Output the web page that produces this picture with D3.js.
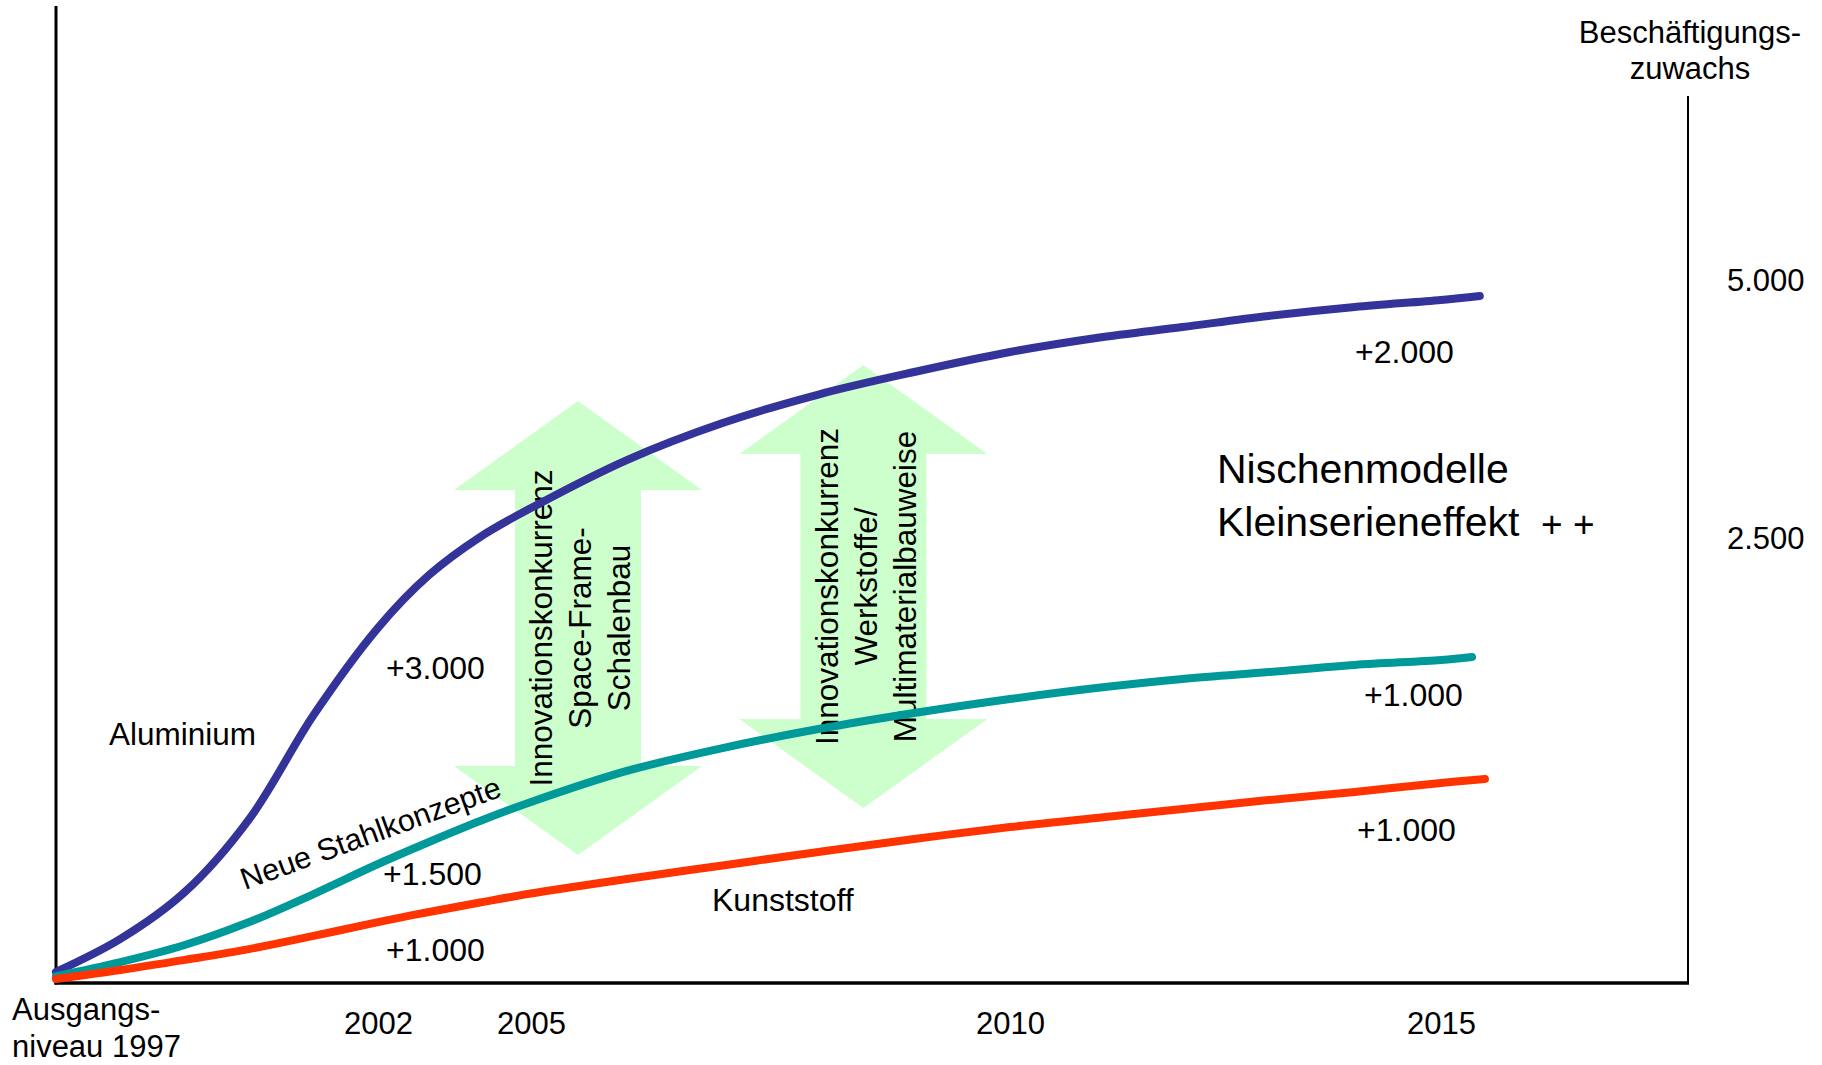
<!DOCTYPE html>
<html lang="de">
<head>
<meta charset="utf-8">
<title>Beschäftigungszuwachs nach Werkstoff</title>
<script src="https://cdn.jsdelivr.net/npm/d3@7"></script>
<style>
  html, body { margin: 0; padding: 0; background: #ffffff; }
  svg { display: block; }
  text { font-family: "Liberation Sans", Arial, sans-serif; fill: #000000; }
</style>
</head>
<body>
<svg id="chart" width="1822" height="1065"></svg>
<script>
// ---- data: employment growth per material, [year, Beschäftigte] ----
const aluminium = [
  [1997, 62], [1998, 248], [1999, 512], [2000, 923], [2001, 1509], [2002, 2000],
  [2003, 2297], [2004, 2519], [2005, 2800], [2006, 3265], [2007, 3624], [2008, 3900],
  [2009, 4118], [2010, 4312], [2011, 4448], [2012, 4554], [2013, 4661], [2014, 4748],
  [2015, 4816], [2015.45, 4855]
];
const stahl = [
  [1997, 39], [1998, 118], [1999, 214], [2000, 343], [2001, 501], [2002, 670],
  [2003, 794], [2004, 912], [2005, 1019], [2006, 1194], [2007, 1323], [2008, 1430],
  [2009, 1520], [2010, 1599], [2011, 1661], [2012, 1712], [2013, 1751], [2014, 1791],
  [2015, 1819], [2015.36, 1836]
];
const kunststoff = [
  [1997, 23], [1998, 73], [1999, 130], [2000, 191], [2001, 265], [2002, 343],
  [2003, 400], [2004, 453], [2005, 504], [2006, 586], [2007, 662], [2008, 738],
  [2009, 811], [2010, 878], [2011, 929], [2012, 980], [2013, 1030], [2014, 1076],
  [2015, 1126], [2015.51, 1149]
];

// axis labelling
const yearTicks = [2002, 2005, 2010, 2015];
const startLabel = ["Ausgangs-", "niveau 1997"];
const valueTicks = [2500, 5000];
const axisTitle = ["Beschäftigungs-", "zuwachs"];

// increments written next to the curves
const incrementTexts = [3000, 1500, 1000, 2000, 1000, 1000];

// competition arrows: [centre year, lower value, upper value]
const arrowSpans = [[2005.49, 721, 3837], [2008.47, 985, 4186]];
const arrowTexts = [
  ["Innovationskonkurrenz", "Space-Frame-", "Schalenbau"],
  ["Innovationskonkurrenz", "Werkstoffe/", "Multimaterialbauweise"]
];

// ---- layout ----
const W = 1822, H = 1065;
const left = 56, bottom = 983, rightAxisX = 1688, leftAxisTop = 6, rightAxisTop = 96;
const colors = { alu: "#333399", stahl: "#009999", kunststoff: "#ff3300", arrow: "#ccffcc" };

const svg = d3.select("#chart").attr("viewBox", `0 0 ${W} ${H}`);

// schematic time axis: uneven spacing between the marked years
const x = d3.scaleLinear()
  .domain([1997, 2002, 2005, 2010, 2015])
  .range([left, 378, 531, 1010, 1441]);

// schematic value axis
const y = d3.scaleLinear()
  .domain([0, 2500, 5000])
  .range([bottom, 539, 281]);

const de = d3.formatLocale({ decimal: ",", thousands: ".", grouping: [3], currency: ["", " €"] });
const fmt = de.format(",d");

// ---- arrows (drawn first, curves run over them) ----
const headHalf = 124, shaftHalf = 63, headLen = 89;
const arrowG = svg.append("g");
arrowSpans.forEach(([yr, lo, hi], i) => {
  const cx = x(yr), yt = y(hi), yb = y(lo);
  const pts = [
    [cx, yt], [cx + headHalf, yt + headLen], [cx + shaftHalf, yt + headLen],
    [cx + shaftHalf, yb - headLen], [cx + headHalf, yb - headLen], [cx, yb],
    [cx - headHalf, yb - headLen], [cx - shaftHalf, yb - headLen],
    [cx - shaftHalf, yt + headLen], [cx - headHalf, yt + headLen]
  ];
  arrowG.append("polygon")
    .attr("points", pts.map(p => p.join(",")).join(" "))
    .attr("fill", colors.arrow);

  const t = arrowG.append("g")
    .attr("transform", `translate(${cx},${(yt + yb) / 2}) rotate(-90)`);
  arrowTexts[i].forEach((line, k) => {
    t.append("text")
      .attr("x", 0)
      .attr("y", -25.5 + k * 39)
      .attr("text-anchor", "middle")
      .attr("font-size", 31.5)
      .text(line);
  });
});

// ---- axes ----
svg.append("line")
  .attr("x1", left).attr("x2", left)
  .attr("y1", leftAxisTop).attr("y2", bottom + 1.5)
  .attr("stroke", "#000").attr("stroke-width", 3);
svg.append("line")
  .attr("x1", left - 1.5).attr("x2", rightAxisX + 1)
  .attr("y1", bottom).attr("y2", bottom)
  .attr("stroke", "#000").attr("stroke-width", 3.5);
svg.append("line")
  .attr("x1", rightAxisX).attr("x2", rightAxisX)
  .attr("y1", rightAxisTop).attr("y2", bottom)
  .attr("stroke", "#000").attr("stroke-width", 2);

const xAxis = svg.append("g")
  .attr("transform", `translate(0,${bottom})`)
  .call(d3.axisBottom(x).tickValues(yearTicks).tickSize(0).tickPadding(29).tickFormat(d3.format("d")));
xAxis.select(".domain").remove();
xAxis.attr("font-size", null).attr("font-family", null);
xAxis.selectAll("text").attr("font-size", 31).attr("fill", "#000");

const yAxis = svg.append("g")
  .attr("transform", `translate(${rightAxisX},0)`)
  .call(d3.axisRight(y).tickValues(valueTicks).tickSize(0).tickPadding(39).tickFormat(fmt));
yAxis.select(".domain").remove();
yAxis.attr("font-size", null).attr("font-family", null);
yAxis.selectAll("text").attr("font-size", 31).attr("fill", "#000");

// start label under the origin
const sl = svg.append("text").attr("font-size", 31);
startLabel.forEach((s, k) => {
  sl.append("tspan").attr("x", x(1997) - 44).attr("y", 1020 + k * 37).text(s);
});

// axis title above the right axis
const at = svg.append("text").attr("font-size", 31).attr("text-anchor", "middle");
axisTitle.forEach((s, k) => {
  at.append("tspan").attr("x", 1690).attr("y", 43 + k * 36).text(s);
});

// ---- curves ----
const line = d3.line()
  .x(d => x(d[0]))
  .y(d => y(d[1]))
  .curve(d3.curveCatmullRom.alpha(0.5));

[[aluminium, colors.alu], [stahl, colors.stahl], [kunststoff, colors.kunststoff]]
  .forEach(([data, c]) => {
    svg.append("path")
      .datum(data)
      .attr("d", line)
      .attr("fill", "none")
      .attr("stroke", c)
      .attr("stroke-width", 8)
      .attr("stroke-linecap", "round")
      .attr("stroke-linejoin", "round");
  });

// ---- labels ----
svg.append("text").attr("x", 109).attr("y", 745).attr("font-size", 31.5).text("Aluminium");
svg.append("text").attr("x", 712).attr("y", 911).attr("font-size", 32).text("Kunststoff");
svg.append("text")
  .attr("transform", "translate(245,890) rotate(-20)")
  .attr("font-size", 30.5)
  .text("Neue Stahlkonzepte");

const incPos = [[386, 679], [383, 885], [386, 961], [1355, 363], [1364, 706], [1357, 841]];
incrementTexts.forEach((v, i) => {
  svg.append("text")
    .attr("x", incPos[i][0]).attr("y", incPos[i][1])
    .attr("font-size", 32)
    .text("+" + fmt(v));
});

svg.append("text").attr("x", 1217).attr("y", 483).attr("font-size", 41).text("Nischenmodelle");
svg.append("text").attr("x", 1217).attr("y", 536).attr("font-size", 41).text("Kleinserieneffekt");
svg.append("text").attr("x", 1541).attr("y", 537).attr("font-size", 37).text("+ +");
</script>
</body>
</html>
